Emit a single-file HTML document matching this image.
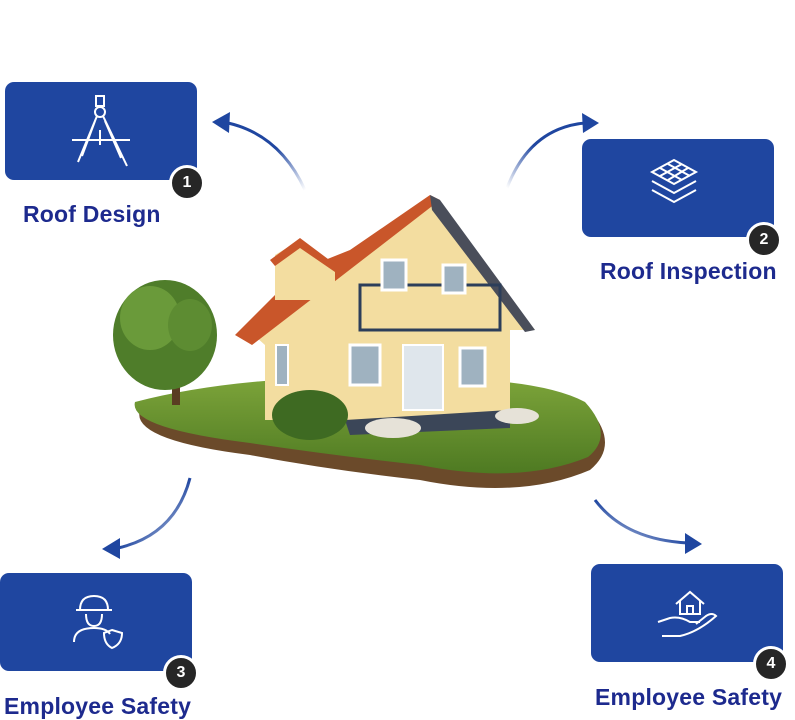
<!DOCTYPE html>
<html><head><style>
body{margin:0;width:795px;height:720px;background:#fff;position:relative;overflow:hidden;font-family:"Liberation Sans",sans-serif}
.box{position:absolute;width:192px;height:98px;background:#1f46a0;border-radius:9px}
.badge{position:absolute;width:30px;height:30px;border-radius:50%;background:#262626;border:3px solid #fff;color:#fff;font-weight:bold;font-size:16px;text-align:center;line-height:30px}
.lbl{position:absolute;color:#1d2a8e;font-weight:bold;font-size:23px;white-space:nowrap;letter-spacing:0.2px}
svg{position:absolute;left:0;top:0}
</style></head><body>
<svg width="795" height="720">
<defs>
<linearGradient id="g1" x1="1" y1="1" x2="0" y2="0"><stop offset="0" stop-color="#1f46a0" stop-opacity="0"/><stop offset="0.5" stop-color="#1f46a0"/></linearGradient>
<linearGradient id="g2" x1="0" y1="1" x2="1" y2="0"><stop offset="0" stop-color="#1f46a0" stop-opacity="0"/><stop offset="0.5" stop-color="#1f46a0"/></linearGradient>
<linearGradient id="gr" x1="0" y1="0" x2="0" y2="1"><stop offset="0" stop-color="#7da43a"/><stop offset="1" stop-color="#4e7a22"/></linearGradient>
</defs>
<path d="M305 190 Q280 135 228 123" stroke="url(#g1)" stroke-width="3" fill="none"/>
<polygon points="212,122 230,112 229,133" fill="#1f46a0"/>
<path d="M507 188 Q530 128 585 123" stroke="url(#g2)" stroke-width="3" fill="none"/>
<polygon points="599,123 582,113 583,133" fill="#1f46a0"/>
<path d="M190 478 Q175 535 118 548" stroke="url(#g1)" stroke-width="3" fill="none"/>
<polygon points="102,549 120,538 120,559" fill="#1f46a0"/>
<path d="M595 500 Q625 540 688 543" stroke="url(#g2)" stroke-width="3" fill="none"/>
<polygon points="702,544 685,533 685,554" fill="#1f46a0"/>
<path d="M140 410 Q130 440 250 455 Q330 470 420 480 Q520 500 590 470 Q620 445 590 410 Q540 385 420 385 Q250 380 140 410 Z" fill="#6b4a2a"/>
<path d="M135 402 Q128 428 250 443 Q330 455 420 465 Q520 485 588 457 Q615 435 585 402 Q540 378 420 378 Q250 372 135 402 Z" fill="url(#gr)"/>
<rect x="172" y="340" width="8" height="65" fill="#5a3d22"/>
<ellipse cx="165" cy="335" rx="52" ry="55" fill="#4f7d2a"/>
<ellipse cx="150" cy="318" rx="30" ry="32" fill="#6a9a3a"/>
<ellipse cx="190" cy="325" rx="22" ry="26" fill="#5d8c32"/>
<polygon points="248,330 435,200 535,330 510,330 510,420 265,420 265,345" fill="#f3dda0"/>
<polygon points="235,335 300,270 350,250 430,195 440,200 330,285 252,345" fill="#c9562a"/>
<polygon points="430,195 440,200 535,330 525,332 432,210" fill="#4a4e5a"/>
<polygon points="275,255 300,240 335,265 335,300 275,300" fill="#f3dda0"/>
<polygon points="270,260 300,238 340,268 335,272 300,248 275,266" fill="#c9562a"/>
<rect x="360" y="285" width="140" height="45" fill="none" stroke="#2c3e5a" stroke-width="3"/>
<rect x="403" y="345" width="40" height="65" fill="#dfe6ec" stroke="#fff" stroke-width="2"/>
<rect x="350" y="345" width="30" height="40" fill="#9fb2c0" stroke="#fff" stroke-width="3"/>
<rect x="460" y="348" width="25" height="38" fill="#9fb2c0" stroke="#fff" stroke-width="3"/>
<rect x="276" y="345" width="12" height="40" fill="#9fb2c0" stroke="#fff" stroke-width="2"/>
<rect x="382" y="260" width="24" height="30" fill="#9fb2c0" stroke="#fff" stroke-width="3"/>
<rect x="443" y="265" width="22" height="28" fill="#9fb2c0" stroke="#fff" stroke-width="3"/>
<polygon points="345,420 510,410 510,428 350,435" fill="#3b4658"/>
<ellipse cx="310" cy="415" rx="38" ry="25" fill="#3e6a22"/>
<ellipse cx="393" cy="428" rx="28" ry="10" fill="#e6e2d8"/>
<ellipse cx="517" cy="416" rx="22" ry="8" fill="#e6e2d8"/>
</svg>

<div class="box" style="left:5px;top:82px"></div>
<div class="box" style="left:582px;top:139px"></div>
<div class="box" style="left:0px;top:573px"></div>
<div class="box" style="left:591px;top:564px"></div>
<svg width="795" height="720">
<g stroke="#fff" stroke-width="2" fill="none">
<path d="M96 96 h8 v10 h-8z"/><circle cx="100" cy="112" r="5"/>
<path d="M97 116 L78 162 M103 116 L127 166 M72 140 L130 140 M100 130 L100 145 M95 121 L82 156 M105 121 L121 158"/>
<path d="M652 172 L674 160 L696 172 L674 184 Z M660 168 L682 180 M668 164 L690 176 M660 176 L682 164 M668 180 L688 168"/>
<path d="M652 181 L674 193 L696 181 M652 190 L674 202 L696 190"/>
<path d="M80 610 Q80 596 94 596 Q108 596 108 610 Z M76 610 L112 610 M86 614 Q86 626 94 626 Q102 626 102 614 M74 642 Q74 628 94 628 Q106 628 110 634"/>
<path d="M112 630 L122 633 Q122 644 112 648 Q104 644 104 633 Z"/>
<path d="M676 604 L690 592 L704 604 M680 600 L680 614 L700 614 L700 600 M687 614 L687 606 L693 606 L693 614"/>
<path d="M658 622 L670 618 Q680 616 690 622 L700 622 M662 636 L680 636 Q698 632 716 616 Q712 612 706 616 L696 624"/>
</g></svg>
<div class="badge" style="left:169px;top:165px">1</div>
<div class="lbl" style="left:23px;top:201px">Roof Design</div>
<div class="badge" style="left:746px;top:222px">2</div>
<div class="lbl" style="left:600px;top:258px">Roof Inspection</div>
<div class="badge" style="left:163px;top:655px">3</div>
<div class="lbl" style="left:4px;top:693px">Employee Safety</div>
<div class="badge" style="left:753px;top:646px">4</div>
<div class="lbl" style="left:595px;top:684px">Employee Safety</div>
</body></html>
